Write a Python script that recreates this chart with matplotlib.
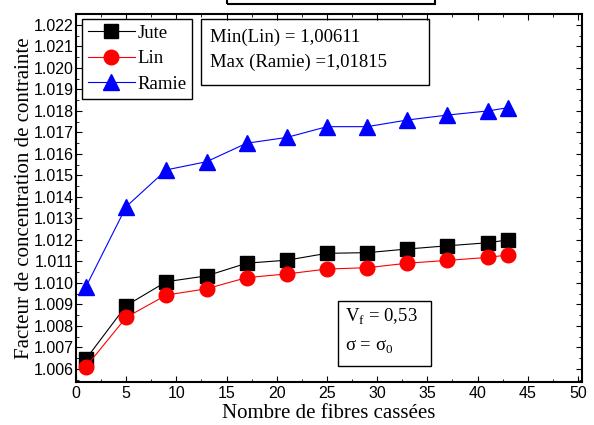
import numpy as np
import matplotlib
matplotlib.use("Agg")
import matplotlib.pyplot as plt
from matplotlib.patches import Rectangle
from matplotlib.ticker import MultipleLocator, FormatStrFormatter

# data
fibres = [1, 5, 9, 13, 17, 21, 25, 29, 33, 37, 41, 43]
jute = [1.00647, 1.00895, 1.01006, 1.01033, 1.01092, 1.01106,
        1.01138, 1.01141, 1.01158, 1.01173, 1.01187, 1.01200]
lin = [1.00611, 1.00840, 1.00944, 1.00973, 1.01025, 1.01042,
       1.01065, 1.01071, 1.01092, 1.01105, 1.01119, 1.01130]
ramie = [1.00983, 1.01355, 1.01526, 1.01564, 1.01650, 1.01677,
         1.01727, 1.01727, 1.01758, 1.01781, 1.01800, 1.01815]

SERIF = "Liberation Serif"
SANS = "Liberation Sans"
plt.rcParams["mathtext.fontset"] = "custom"

fig = plt.figure(figsize=(5.94, 4.25), dpi=100)
ax = fig.add_axes([76 / 594, 1 - 382 / 425, 506 / 594, 368 / 425])

ax.plot(fibres, jute, color="black", lw=0.8, marker="s", ms=9.5,
        markeredgecolor="black", label="Jute")
ax.plot(fibres, lin, color="red", lw=0.8, marker="o", ms=10.5,
        markeredgecolor="red", label="Lin")
ax.plot(fibres, ramie, color="blue", lw=0.8, marker="^", ms=11,
        markeredgecolor="blue", label="Ramie")

ax.set_xlim(0, 50.4)
ax.set_ylim(1.005395, 1.02251)
ax.xaxis.set_major_locator(MultipleLocator(5))
ax.xaxis.set_minor_locator(MultipleLocator(2.5))
ax.yaxis.set_major_locator(MultipleLocator(0.001))
ax.yaxis.set_minor_locator(MultipleLocator(0.0005))
ax.yaxis.set_major_formatter(FormatStrFormatter("%.3f"))
ax.tick_params(which="both", direction="in", top=True, right=True)
ax.tick_params(which="major", length=4, width=0.8, labelsize=11.5, pad=3)
ax.tick_params(axis="y", which="major", pad=1.5)
ax.tick_params(which="minor", length=2, width=0.6)
for lab in ax.get_xticklabels() + ax.get_yticklabels():
    lab.set_fontfamily(SANS)
for sp in ax.spines.values():
    sp.set_linewidth(1.5)

ax.set_xlabel("Nombre de fibres cassées", fontfamily=SERIF, fontsize=15, labelpad=2)
ax.set_ylabel("Facteur de concentration de contrainte", fontfamily=SERIF,
              fontsize=15, labelpad=0)

leg = ax.legend(loc="upper left", bbox_to_anchor=(6 / 506, 1 - 5 / 368),
                borderaxespad=0, fancybox=False, edgecolor="black",
                prop={"family": SERIF, "size": 13.5}, handlelength=2.5,
                labelspacing=0.45, borderpad=0.3, handletextpad=0.15,
                framealpha=1)
leg.get_frame().set_linewidth(1.0)

# text boxes
ax.add_patch(Rectangle((0.247, 0.807), 0.451, 0.1794, transform=ax.transAxes,
                       fill=False, edgecolor="black", lw=1.0, zorder=5))
ax.text(0.265, 0.9375, "Min(Lin) = 1,00611", transform=ax.transAxes,
        fontfamily=SERIF, fontsize=13.5, va="center")
ax.text(0.265, 0.8696, "Max (Ramie) =1,01815", transform=ax.transAxes,
        fontfamily=SERIF, fontsize=13.5, va="center")

ax.add_patch(Rectangle((0.518, 0.0435), 0.1836, 0.1766, transform=ax.transAxes,
                       fill=False, edgecolor="black", lw=1.0, zorder=5))
ax.text(0.5316, 0.1775, r"V$_\mathregular{f}$ = 0,53", transform=ax.transAxes,
        fontfamily=SERIF, fontsize=13.5, va="center")
ax.text(0.5316, 0.0959, r"σ = σ$_\mathregular{0}$", transform=ax.transAxes,
        fontfamily=SERIF, fontsize=13.5, va="center")

# clipped box at the top of the figure
fig.patches.append(Rectangle((227 / 594, 1 - 3.5 / 425), 208 / 594, 0.2,
                             transform=fig.transFigure, fill=False,
                             edgecolor="black", lw=1.5, clip_on=False))

fig.savefig("out.png", dpi=100)
